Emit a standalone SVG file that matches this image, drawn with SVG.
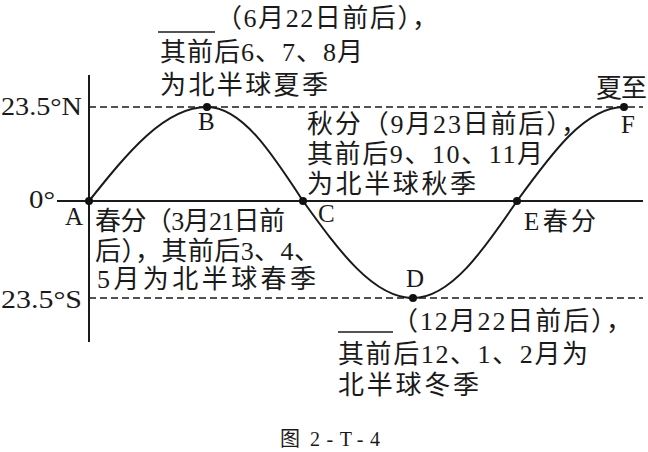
<svg xmlns="http://www.w3.org/2000/svg" width="648" height="452" viewBox="0 0 648 452">
<style>
text{font-family:"Liberation Serif","Noto Sans CJK SC",serif;fill:#1a1a1a}
.t{font-size:26px}
.l{font-size:25px}
.ax{stroke:#1a1a1a;stroke-width:2;fill:none}
.dash{stroke:#1a1a1a;stroke-width:1.6;stroke-dasharray:7 4;fill:none}
.curve{stroke:#1a1a1a;stroke-width:2;fill:none}
.dot{fill:#111}
.ul{stroke:#1a1a1a;stroke-width:1.5}
</style>
<rect width="648" height="452" fill="#fff"/>
<g id="axes">
<line class="ax" x1="89" y1="75" x2="89" y2="342"/>
<line class="ax" x1="57" y1="201" x2="643" y2="201"/>
<line class="dash" x1="89" y1="107" x2="643" y2="107"/>
<line class="dash" x1="89" y1="298" x2="643" y2="298"/>
<text class="l" x="1" y="115" textLength="81" lengthAdjust="spacingAndGlyphs">23.5°N</text>
<text class="l" x="29" y="208" textLength="26" lengthAdjust="spacingAndGlyphs">0°</text>
<text class="l" x="1" y="308" textLength="81" lengthAdjust="spacingAndGlyphs">23.5°S</text>
</g>
<g id="connectors">
<path class="curve" d="M89,201 C127.5,152.8 164.3,107 207,107 C241.7,107 271.7,152.8 303,201 C338.9,250.7 373.2,298 413,298 C450.6,298 483.1,250.7 517,201 C551.9,152.8 585.3,107 624,107"/>
</g>
<g id="A"><circle class="dot" cx="89" cy="201" r="4"/><text class="l" x="65" y="225">A</text></g>
<g id="B"><circle class="dot" cx="207" cy="107" r="4"/><text class="l" x="198" y="130">B</text></g>
<g id="C"><circle class="dot" cx="303" cy="201" r="4"/><text class="l" x="318" y="222">C</text></g>
<g id="D"><circle class="dot" cx="413" cy="298" r="4"/><text class="l" x="406" y="287">D</text></g>
<g id="E"><circle class="dot" cx="517" cy="201" r="4"/><text class="l" x="524" y="230" textLength="72">E春分</text></g>
<g id="F"><circle class="dot" cx="624" cy="107" r="4"/><text class="l" x="621" y="133">F</text><text class="t" x="596" y="97" textLength="51">夏至</text></g>
<g id="summer">
<line class="ul" x1="158" y1="32" x2="215" y2="32"/>
<text class="t" x="216" y="27" textLength="222">（6月22日前后），</text>
<text class="t" x="160" y="61" textLength="203">其前后6、7、8月</text>
<text class="t" x="160" y="94" textLength="168">为北半球夏季</text>
</g>
<g id="autumn">
<text class="t" x="307" y="133" textLength="280">秋分（9月23日前后），</text>
<text class="t" x="307" y="163" textLength="236">其前后9、10、11月</text>
<text class="t" x="307" y="193" textLength="169">为北半球秋季</text>
</g>
<g id="spring">
<text class="t" x="95" y="230" textLength="190">春分（3月21日前</text>
<text class="t" x="95" y="260" textLength="225">后），其前后3、4、</text>
<text class="t" x="97" y="288" textLength="219">5月为北半球春季</text>
</g>
<g id="winter">
<line class="ul" x1="338" y1="332" x2="393" y2="332"/>
<text class="t" x="392" y="330" textLength="240">（12月22日前后），</text>
<text class="t" x="338" y="363" textLength="250">其前后12、1、2月为</text>
<text class="t" x="338" y="394" textLength="141">北半球冬季</text>
</g>
<g id="caption">
<text x="280" y="446" font-size="20">图 <tspan x="310" textLength="70" lengthAdjust="spacing">2-T-4</tspan></text>
</g>
</svg>
